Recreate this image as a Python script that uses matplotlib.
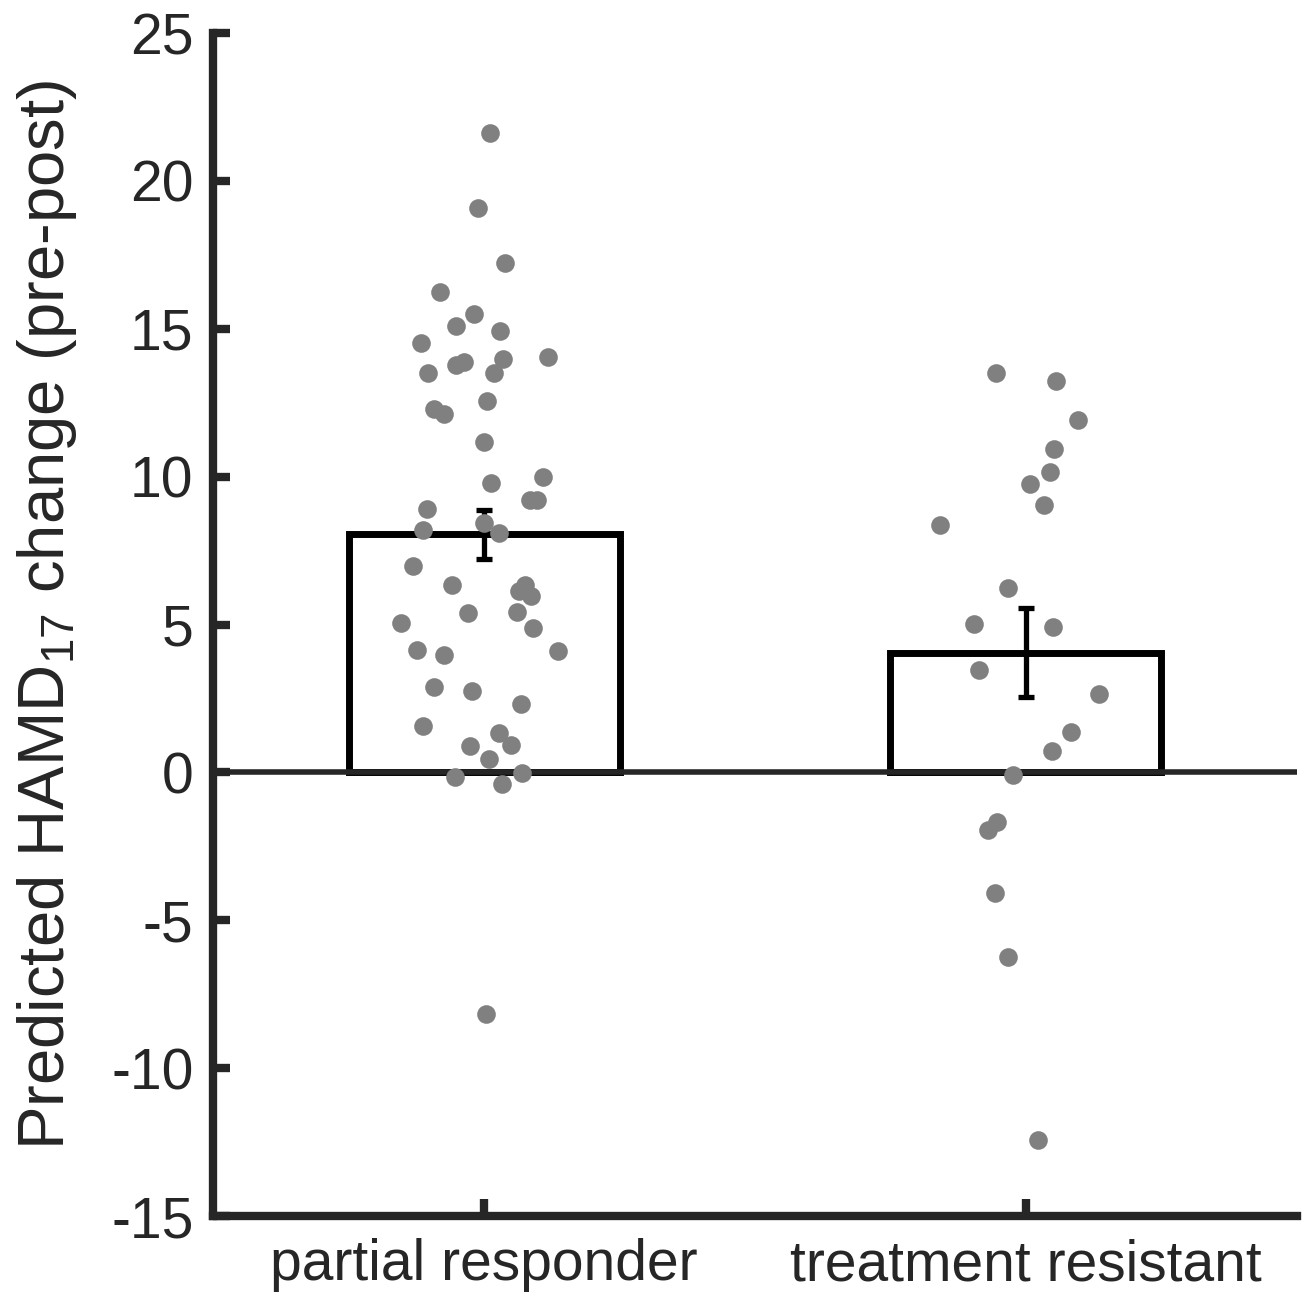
import matplotlib.pyplot as plt
import numpy as np

plt.rcParams['font.family'] = ['Liberation Sans', 'DejaVu Sans']
plt.rcParams['mathtext.default'] = 'regular'
plt.rcParams['axes.unicode_minus'] = False

# data
groups = ['partial responder', 'treatment resistant']
bar_means = [8.05, 4.05]
bar_sems = [0.82, 1.51]

pr_x = [1.011, 0.989, 1.039, 0.919, 0.982, 0.948, 1.030, 0.884, 1.118, 0.963,
        0.948, 1.035, 1.018, 0.896, 1.006, 0.908, 0.926, 1.000, 1.109, 1.013,
        1.085, 1.098, 0.895, 1.000, 1.028, 0.887, 0.869, 0.941, 1.076, 1.065,
        1.087, 0.970, 1.061, 0.847, 1.091, 0.876, 0.926, 1.137, 0.908, 0.978,
        1.068, 0.887, 1.028, 0.974, 1.050, 1.009, 0.946, 1.070, 1.033, 1.004]
pr_y = [21.62, 19.08, 17.22, 16.24, 15.50, 15.09, 14.92, 14.52, 14.05, 13.88,
        13.78, 13.98, 13.50, 13.50, 12.56, 12.29, 12.12, 11.17, 9.99, 9.79,
        9.21, 9.21, 8.91, 8.43, 8.09, 8.20, 6.98, 6.34, 6.34, 6.12,
        5.98, 5.39, 5.42, 5.05, 4.88, 4.14, 3.97, 4.10, 2.89, 2.75,
        2.31, 1.57, 1.33, 0.89, 0.93, 0.45, -0.16, -0.02, -0.39, -8.17]

tr_x = [1.945, 2.055, 2.096, 2.052, 2.044, 2.007, 2.033, 1.841, 1.967, 1.904,
        2.050, 1.913, 2.135, 2.083, 2.048, 1.976, 1.946, 1.930, 1.943, 1.967,
        2.022]
tr_y = [13.51, 13.24, 11.92, 10.94, 10.16, 9.75, 9.04, 8.37, 6.23, 5.02,
        4.92, 3.46, 2.65, 1.37, 0.72, -0.09, -1.68, -1.95, -4.07, -6.24,
        -12.43]

axcol = '#262626'
fig = plt.figure(figsize=(13.06, 13.01), dpi=100)
ax = fig.add_axes([0.1631, 0.0653, 0.8300, 0.9093])

pos = np.arange(1, len(groups) + 1)
ax.bar(pos, bar_means, width=0.5, color='white', edgecolor='black',
       linewidth=5, zorder=2)
ax.axhline(0, color=axcol, linewidth=4, zorder=3)
ax.errorbar(pos, bar_means, yerr=bar_sems, fmt='none', ecolor='black',
            elinewidth=3.8, capsize=6, capthick=3.8, zorder=4)
ax.scatter(pr_x, pr_y, s=180, color='#808080', linewidths=0, zorder=5)
ax.scatter(tr_x, tr_y, s=180, color='#808080', linewidths=0, zorder=5)

ax.set_xlim(0.5, 2.5)
ax.set_ylim(-15, 25)
ax.set_xticks(pos)
ax.set_xticklabels(groups)
ax.set_yticks(np.arange(-15, 26, 5))
ax.set_ylabel('Predicted HAMD$_{17}$ change (pre-post)', fontsize=47,
              color=axcol)
ax.yaxis.set_label_coords(-0.124, 0.508)

for side in ['top', 'right']:
    ax.spines[side].set_visible(False)
for side in ['left', 'bottom']:
    ax.spines[side].set_linewidth(6)
    ax.spines[side].set_color(axcol)
ax.tick_params(direction='in', length=12, width=6, colors=axcol,
               labelsize=41, pad=14)
ax.tick_params(axis='x', pad=16)

fig.savefig('out.png', dpi=100)
